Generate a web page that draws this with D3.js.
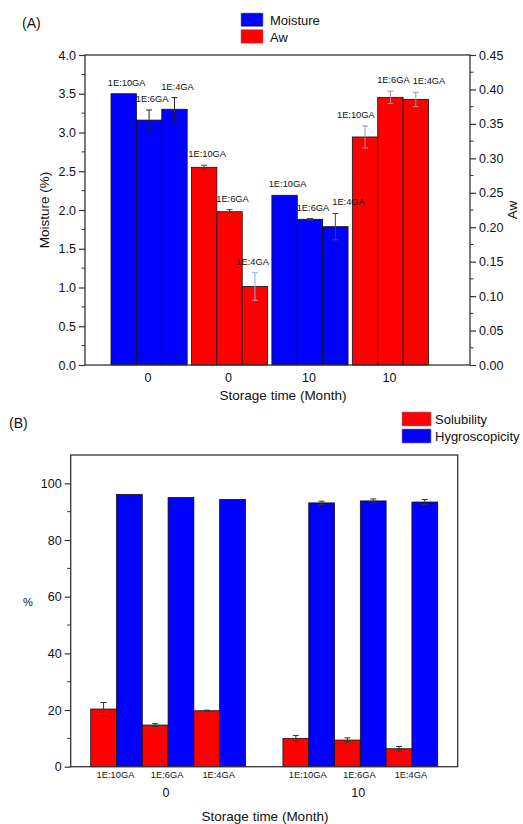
<!DOCTYPE html>
<html>
<head>
<meta charset="utf-8">
<script src="https://cdn.jsdelivr.net/npm/d3@7"></script>
<style>
  body { margin: 0; background: #fff; }
  svg { display: block; font-family: "Liberation Sans", Arial, sans-serif; }
</style>
</head>
<body>
<svg id="chart" width="523" height="824"></svg>
<script>
// Panel A data
const samples = ['1E:10GA', '1E:6GA', '1E:4GA'];
const groupsA = ['Moisture 0', 'Aw 0', 'Moisture 10', 'Aw 10'];
const groupLabelsA = ['0', '0', '10', '10'];
const moisture0 = [3.50, 3.16, 3.30];
const moisture0Err = [0.0, 0.13, 0.15];
const aw0 = [0.287, 0.2225, 0.114];
const aw0Err = [0.003, 0.003, 0.020];
const moisture10 = [2.19, 1.88, 1.785];
const moisture10Err = [0.0, 0.01, 0.17];
const aw10 = [0.331, 0.3885, 0.3855];
const aw10Err = [0.016, 0.009, 0.0105];
const leftTicksA = [0, 0.5, 1.0, 1.5, 2.0, 2.5, 3.0, 3.5, 4.0];
const rightTicksA = [0, 0.05, 0.10, 0.15, 0.20, 0.25, 0.30, 0.35, 0.40, 0.45];

// Panel B data
const months = ['0', '10'];
const solubility0 = [20.35, 14.7, 19.75];
const solubility0Err = [2.3, 0.5, 0.2];
const solubility10 = [10.0, 9.4, 6.35];
const solubility10Err = [1.05, 0.8, 0.8];
const hygro0 = [96.1, 95.0, 94.3];
const hygro0Err = [0.0, 0.0, 0.0];
const hygro10 = [93.1, 93.8, 93.4];
const hygro10Err = [0.6, 0.7, 0.9];
const ticksB = [0, 20, 40, 60, 80, 100];

const BLUE = '#0000ff';
const RED = '#ff0000';
const AXIS = '#333';
const SAMPLE_FONT = '9.3px';

const svg = d3.select('#chart');

/**
 * Draw an error bar (vertical line with caps)
 */
function errorBar(g, cx, yTop, yBot, color) {
  if (Math.abs(yBot - yTop) < 0.5) return;
  g.append('line').attr('x1', cx).attr('x2', cx).attr('y1', yTop).attr('y2', yBot)
    .style('stroke', color).style('stroke-width', '1px');
  [yTop, yBot].forEach(y => {
    g.append('line').attr('x1', cx - 3).attr('x2', cx + 3).attr('y1', y).attr('y2', y)
      .style('stroke', color).style('stroke-width', '1px');
  });
}

/**
 * Add minor ticks along a vertical axis
 */
function minorTicks(g, scale, values, x, dir) {
  g.selectAll(null).data(values).enter().append('line')
    .attr('x1', x).attr('x2', x + dir * 3.5)
    .attr('y1', d => scale(d)).attr('y2', d => scale(d))
    .style('stroke', AXIS).style('stroke-width', '1px');
}

// ---------------- Panel A ----------------
const A = { left: 85, right: 470, top: 55, bottom: 365 };
const xA = d3.scaleBand().domain(groupsA).range([111, 428.5]).paddingInner(0.053).paddingOuter(0);
const xSubA = d3.scaleBand().domain(samples).range([0, xA.bandwidth()]);
const yMoist = d3.scaleLinear().domain([0, 4.0]).range([A.bottom, A.top]);
const yAw = d3.scaleLinear().domain([0, 0.45]).range([A.bottom, A.top]);

const gA = svg.append('g');

const seriesA = [
  { group: groupsA[0], vals: moisture0, errs: moisture0Err, y: yMoist, color: BLUE, errColor: '#222' },
  { group: groupsA[1], vals: aw0, errs: aw0Err, y: yAw, color: RED, errColor: '#444' },
  { group: groupsA[2], vals: moisture10, errs: moisture10Err, y: yMoist, color: BLUE, errColor: '#444' },
  { group: groupsA[3], vals: aw10, errs: aw10Err, y: yAw, color: RED, errColor: '#999' }
];

// flatten bars so labels can look at their neighbours
const barsA = [];
seriesA.forEach(s => {
  samples.forEach((name, i) => {
    const x = xA(s.group) + xSubA(name);
    barsA.push({
      name: name, idx: i, x: x, w: xSubA.bandwidth(),
      yTop: s.y(s.vals[i]),
      eTop: s.y(s.vals[i] + s.errs[i]),
      eBot: s.y(s.vals[i] - s.errs[i]),
      color: s.color,
      errColor: (s.group === groupsA[1] && i === 2) ? '#8fb0e0' : s.errColor
    });
  });
});

barsA.forEach(b => {
  gA.append('rect')
    .attr('x', b.x).attr('y', b.yTop).attr('width', b.w).attr('height', A.bottom - b.yTop)
    .style('fill', b.color).style('stroke', '#111').style('stroke-width', '0.8px');
  errorBar(gA, b.x + b.w / 2, b.eTop, b.eBot, b.errColor);
});

// sample labels above each bar, nudged away from neighbours
let prevLabel = null;
barsA.forEach((b, k) => {
  const ly = b.eTop - 8;
  const label = gA.append('text')
    .attr('y', ly).attr('text-anchor', 'middle')
    .style('font-size', SAMPLE_FONT).style('fill', '#111')
    .text(b.name);
  const tw = label.node().getComputedTextLength();
  let cx = b.x + b.w / 2 + 3;
  const next = barsA[k + 1];
  if (next && next.yTop < ly && cx + tw / 2 > next.x - 2) {
    cx = next.x - 3 - tw / 2;
  }
  if (prevLabel && b.idx > 0 && Math.abs(prevLabel.y - ly) < 10) {
    const overlap = (prevLabel.cx + prevLabel.w / 2) - (cx - tw / 2);
    if (overlap > -3) cx += overlap + 3;
  }
  label.attr('x', cx);
  prevLabel = { cx: cx, w: tw, y: ly };
});

// Frame
gA.append('rect')
  .attr('x', A.left).attr('y', A.top).attr('width', A.right - A.left).attr('height', A.bottom - A.top)
  .style('fill', 'none').style('stroke', AXIS).style('stroke-width', '1.3px');

// Left axis
const leftAxisA = gA.append('g')
  .attr('transform', `translate(${A.left},0)`)
  .call(d3.axisLeft(yMoist).tickValues(leftTicksA).tickFormat(d3.format('.1f')).tickSize(6).tickPadding(3));
minorTicks(gA, yMoist, d3.range(0.25, 4.0, 0.5), A.left, -1);

// Right axis
const rightAxisA = gA.append('g')
  .attr('transform', `translate(${A.right},0)`)
  .call(d3.axisRight(yAw).tickValues(rightTicksA).tickFormat(d3.format('.2f')).tickSize(6).tickPadding(3));
minorTicks(gA, yAw, d3.range(0.025, 0.45, 0.05), A.right, 1);

[leftAxisA, rightAxisA].forEach(ax => {
  ax.select('.domain').remove();
  ax.selectAll('line').style('stroke', AXIS).style('stroke-width', '1.2px');
  ax.selectAll('text').style('font-size', '12.5px').style('fill', '#111')
    .style('font-family', '"Liberation Sans", Arial, sans-serif');
});

// Group labels on x
groupsA.forEach((grp, i) => {
  gA.append('text')
    .attr('x', xA(grp) + xA.bandwidth() / 2 - 1).attr('y', A.bottom + 17)
    .attr('text-anchor', 'middle').style('font-size', '12.5px').style('fill', '#111')
    .text(groupLabelsA[i]);
});

gA.append('text').attr('x', 283).attr('y', 400).attr('text-anchor', 'middle')
  .style('font-size', '13.5px').style('fill', '#111').text('Storage time (Month)');
gA.append('text').attr('transform', `translate(49,${(A.top + A.bottom) / 2}) rotate(-90)`)
  .attr('text-anchor', 'middle').style('font-size', '13.5px').style('fill', '#111').text('Moisture (%)');
gA.append('text').attr('transform', `translate(517,${(A.top + A.bottom) / 2}) rotate(-90)`)
  .attr('text-anchor', 'middle').style('font-size', '13.5px').style('fill', '#111').text('Aw');
gA.append('text').attr('x', 22).attr('y', 28)
  .style('font-size', '14px').style('fill', '#111').text('(A)');

// Legend A
[['Moisture', BLUE], ['Aw', RED]].forEach(([label, color], i) => {
  gA.append('rect').attr('x', 241).attr('y', 13 + i * 16.7).attr('width', 22).attr('height', 13.5)
    .style('fill', color).style('stroke', '#888').style('stroke-width', '0.6px');
  gA.append('text').attr('x', 270).attr('y', 25 + i * 16.7)
    .style('font-size', '13px').style('fill', '#111').text(label);
});

// ---------------- Panel B ----------------
const B = { left: 70.7, right: 457.7, top: 455, bottom: 766.7 };
const xB = d3.scaleBand().domain(months).range([B.left, B.right]).paddingInner(0.195).paddingOuter(0.104);
const xSubB = d3.scaleBand().domain(samples).range([0, xB.bandwidth()]);
const yB = d3.scaleLinear().domain([0, 110]).range([B.bottom, B.top]);

const gB = svg.append('g');

const seriesB = [
  { month: '0', sol: solubility0, solErr: solubility0Err, hyg: hygro0, hygErr: hygro0Err },
  { month: '10', sol: solubility10, solErr: solubility10Err, hyg: hygro10, hygErr: hygro10Err }
];

seriesB.forEach(s => {
  samples.forEach((name, i) => {
    const x0 = xB(s.month) + xSubB(name);
    const w = xSubB.bandwidth() / 2;
    [[s.sol, s.solErr, RED, 0], [s.hyg, s.hygErr, BLUE, 1]].forEach(([vals, errs, color, k]) => {
      const x = x0 + k * w;
      const yTop = yB(vals[i]);
      gB.append('rect')
        .attr('x', x).attr('y', yTop).attr('width', w).attr('height', B.bottom - yTop)
        .style('fill', color).style('stroke', '#111').style('stroke-width', '0.8px');
      errorBar(gB, x + w / 2, yB(vals[i] + errs[i]), yB(vals[i] - errs[i]), '#333');
    });
    gB.append('text')
      .attr('x', x0 + w - 1).attr('y', B.bottom + 11)
      .attr('text-anchor', 'middle').style('font-size', SAMPLE_FONT).style('fill', '#111')
      .text(name);
  });
  gB.append('text')
    .attr('x', xB(s.month) + xB.bandwidth() / 2 - 2).attr('y', B.bottom + 30)
    .attr('text-anchor', 'middle').style('font-size', '12.5px').style('fill', '#111')
    .text(s.month);
});

// Frame B
gB.append('rect')
  .attr('x', B.left).attr('y', B.top).attr('width', B.right - B.left).attr('height', B.bottom - B.top)
  .style('fill', 'none').style('stroke', AXIS).style('stroke-width', '1.3px');

const leftAxisB = gB.append('g')
  .attr('transform', `translate(${B.left},0)`)
  .call(d3.axisLeft(yB).tickValues(ticksB).tickSize(6).tickPadding(3));
minorTicks(gB, yB, d3.range(10, 110, 20), B.left, -1);
leftAxisB.select('.domain').remove();
leftAxisB.selectAll('line').style('stroke', AXIS).style('stroke-width', '1.2px');
leftAxisB.selectAll('text').style('font-size', '12.5px').style('fill', '#111')
  .style('font-family', '"Liberation Sans", Arial, sans-serif');

gB.append('text').attr('x', 265).attr('y', 821).attr('text-anchor', 'middle')
  .style('font-size', '13.5px').style('fill', '#111').text('Storage time (Month)');
gB.append('text').attr('x', 28).attr('y', 606).attr('text-anchor', 'middle')
  .style('font-size', '11px').style('fill', '#111').text('%');
gB.append('text').attr('x', 9).attr('y', 428)
  .style('font-size', '14px').style('fill', '#111').text('(B)');

// Legend B
[['Solubility', RED], ['Hygroscopicity', BLUE]].forEach(([label, color], i) => {
  gB.append('rect').attr('x', 402).attr('y', 412 + i * 17).attr('width', 29).attr('height', 14)
    .style('fill', color).style('stroke', '#888').style('stroke-width', '0.6px');
  gB.append('text').attr('x', 435).attr('y', 424 + i * 17)
    .style('font-size', '13px').style('fill', '#111').text(label);
});
</script>
</body>
</html>
